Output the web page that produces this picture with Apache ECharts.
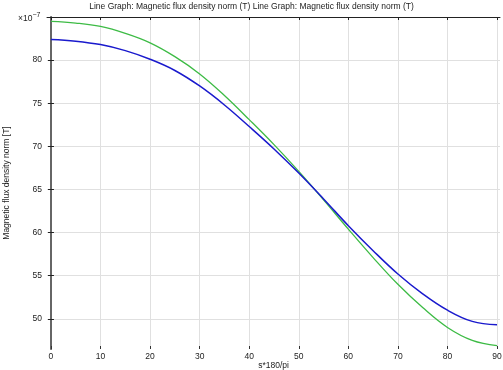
<!DOCTYPE html>
<html>
<head>
<meta charset="utf-8">
<script src="https://cdn.jsdelivr.net/npm/echarts@6/dist/echarts.min.js"></script>
<style>html,body{margin:0;padding:0;background:#fff}#c{width:503px;height:370px}</style>
</head>
<body>
<div id="c"></div>
<script>
var titleText = 'Line Graph: Magnetic flux density norm (T) Line Graph: Magnetic flux density norm (T)';
var xName = 's*180/pi';
var yName = 'Magnetic flux density norm [T]';
var xTicks = [0, 10, 20, 30, 40, 50, 60, 70, 80, 90];
var yTicks = [50, 55, 60, 65, 70, 75, 80];
var angles = [0, 5, 10, 15, 20, 25, 30, 35, 40, 45, 50, 55, 60, 65, 70, 75, 80, 85, 90];
var greenVals = [84.5, 84.3, 83.9, 83.1, 82.0, 80.4, 78.4, 75.9, 73.1, 70.2, 67.1, 63.8, 60.4, 57.1, 54.0, 51.3, 49.0, 47.5, 46.9];
var blueVals  = [82.4, 82.2, 81.8, 81.1, 80.1, 78.8, 77.0, 74.8, 72.3, 69.7, 66.9, 63.9, 60.8, 57.9, 55.2, 52.9, 51.0, 49.7, 49.3];

function pairs(xs, ys){ return xs.map(function(x,i){ return [x, ys[i]]; }); }

var font = 'Liberation Sans';
var fs = 8.5;
var chart = echarts.init(document.getElementById('c'), null, {renderer:'canvas'});
var xMin = -0.8, xMax = 90.6, yMin = 46.5, yMax = 85;
chart.setOption({
  animation: false,
  backgroundColor: '#fff',
  title: {
    text: titleText, left: 'center', top: -3,
    textStyle: {fontFamily: font, fontSize: fs, fontWeight: 'normal', color: '#222'}
  },
  graphic: [{
    type: 'text', left: 18, top: 12,
    style: {
      text: '{a|×10}{b|−7}',
      rich: {
        a: {fontFamily: font, fontSize: fs, fill: '#222'},
        b: {fontFamily: font, fontSize: 7, fill: '#222', verticalAlign: 'top', padding: [0,0,6,0]}
      }
    }
  }],
  grid: {left: 47, right: 3, top: 17, bottom: 21, containLabel: false, outerBoundsMode: 'none'},
  xAxis: [{
    type: 'value', min: xMin, max: xMax,
    name: xName, nameLocation: 'middle', nameGap: 12, nameMoveOverlap: false,
    nameTextStyle: {fontFamily: font, fontSize: fs, color: '#222'},
    axisLine: {show: false},
    axisTick: {show: true, inside: true, length: 3, customValues: xTicks, lineStyle: {color: '#333'}},
    axisLabel: {customValues: xTicks, fontFamily: font, fontSize: fs, color: '#222', margin: 3},
    splitLine: {show: true, lineStyle: {color: '#e0e0e0', width: 1}}
  }, {
    type: 'value', position: 'top', min: xMin, max: xMax,
    axisLine: {show: true, lineStyle: {color: '#222', width: 1}},
    axisTick: {show: true, inside: true, length: 3, customValues: xTicks, lineStyle: {color: '#222'}},
    axisLabel: {show: false},
    splitLine: {show: false}
  }],
  yAxis: [{
    type: 'value', min: yMin, max: yMax,
    name: yName, nameLocation: 'middle', nameGap: 36, nameMoveOverlap: false,
    nameTextStyle: {fontFamily: font, fontSize: fs, color: '#222'},
    axisLine: {show: true, lineStyle: {color: '#222', width: 1}},
    axisTick: {show: true, inside: true, length: 3, customValues: yTicks, lineStyle: {color: '#222'}},
    axisLabel: {customValues: yTicks, fontFamily: font, fontSize: fs, color: '#222', margin: 5},
    splitLine: {show: true, lineStyle: {color: '#e0e0e0', width: 1}}
  }, {
    type: 'value', position: 'right', min: yMin, max: yMax,
    axisLine: {show: true, lineStyle: {color: '#666', width: 2}},
    axisTick: {show: true, inside: true, length: 3, customValues: yTicks, lineStyle: {color: '#222'}},
    axisLabel: {show: false},
    splitLine: {show: false}
  }],
  series: [{
    type: 'line', name: 'green', data: pairs(angles, greenVals), smooth: 0.4,
    showSymbol: false, lineStyle: {color: '#3dbb45', width: 1.3}, z: 3
  }, {
    type: 'line', name: 'blue', data: pairs(angles, blueVals), smooth: 0.4,
    showSymbol: false, lineStyle: {color: '#1a1acd', width: 1.5}, z: 4
  }]
});
</script>
</body>
</html>
